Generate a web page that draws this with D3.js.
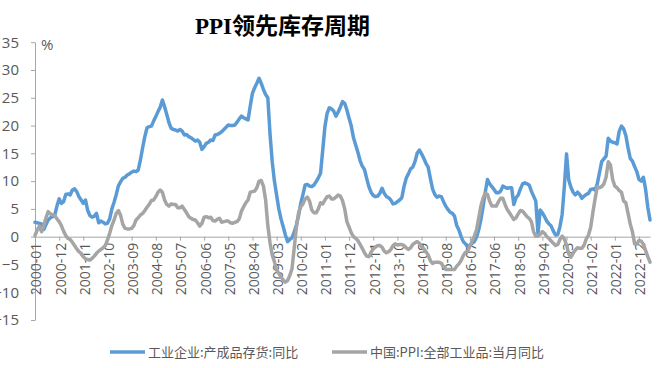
<!DOCTYPE html>
<html><head><meta charset="utf-8">
<script src="https://cdn.jsdelivr.net/npm/d3@7"></script>
<style>
html,body{margin:0;padding:0;background:#fff;}
svg{display:block;}
</style>
</head><body>
<svg id="c" width="658" height="368"></svg>
<script>
// ---- data ----
const startYear = 2000;
const inventory = [
  2.6, 2.5, 2.4, 2.3, 1.3, 2.2, 3.0, 3.4, 3.6, 3.9, 5.5, 6.8,
  6.0, 6.3, 7.6, 7.7, 7.5, 8.4, 8.6, 8.1, 7.2, 6.6, 6.0, 6.6,
  4.7, 3.8, 3.5, 3.7, 4.2, 2.5, 2.8, 2.6, 2.3, 2.4, 3.2, 5.0,
  6.2, 7.6, 9.2, 9.9, 10.5, 10.7, 11.1, 11.3, 11.6, 11.8, 11.7, 12.0,
  13.8, 16.0, 18.0, 19.6, 19.8, 19.9, 20.8, 21.6, 22.5, 23.3, 24.6, 23.4,
  22.0, 20.5, 19.5, 19.3, 19.2, 19.0, 19.3, 19.0, 18.3, 18.4, 18.0, 17.8,
  17.5, 17.2, 17.4, 17.0, 15.7, 16.2, 16.8, 17.0, 17.4, 17.3, 18.3, 18.4,
  18.6, 18.9, 19.3, 19.7, 20.1, 20.0, 20.0, 20.1, 20.6, 21.2, 21.7, 21.4,
  21.2, 21.0, 23.5, 25.8, 26.8, 27.6, 28.5, 27.6, 26.5, 25.6, 25.0, 18.5,
  13.5, 10.0, 7.5, 5.0, 3.2, 1.8, 0.3, -0.9, -0.5, -0.2, 0.8, 2.1,
  3.8, 6.0, 7.6, 9.3, 9.4, 9.1, 9.0, 9.3, 9.9, 10.6, 11.4, 15.6,
  19.8, 22.2, 23.2, 23.0, 22.6, 21.7, 22.4, 23.3, 24.3, 24.0, 22.8, 21.3,
  19.9, 17.8, 16.5, 15.2, 13.7, 12.7, 12.1, 10.5, 9.0, 8.0, 7.4, 7.2,
  7.3, 7.8, 8.7, 7.8, 7.2, 7.0, 6.6, 5.9, 6.0, 6.3, 6.6, 7.0,
  9.0, 10.5, 11.3, 12.2, 12.5, 13.5, 15.0, 15.6, 14.9, 14.1, 13.2, 12.5,
  10.5, 8.6, 7.6, 7.1, 7.3, 7.2, 6.3, 5.5, 4.9, 4.4, 4.2, 3.7,
  2.0, 1.2, 0.0, -0.9, -1.3, -1.8, -1.6, -1.2, -0.9, -0.1, 1.2, 3.0,
  5.4, 8.0, 10.3, 9.5, 9.0, 8.5, 7.9, 7.9, 8.2, 9.1, 8.9, 8.7,
  8.8, 8.8, 5.8, 7.0, 7.5, 8.6, 9.5, 9.7, 9.5, 9.3, 8.2, 7.3,
  6.4, 0.6, 4.8, 4.3, 3.6, 2.8, 2.3, 1.9, 1.0, 0.3, 0.4, 1.8,
  4.0, 9.0, 14.9, 10.2, 8.9, 8.0, 7.5, 8.0, 7.6, 6.9, 7.3, 7.6,
  7.8, 8.5, 8.6, 8.4, 9.5, 11.5, 13.5, 14.0, 14.5, 17.7, 17.2, 17.0,
  16.9, 16.7, 19.0, 19.9, 19.4, 18.2, 16.0, 14.1, 13.6, 12.6, 11.7, 10.3,
  10.0, 10.7, 8.5, 5.3, 3.0
];
const ppi = [
  0.2, 1.2, 1.9, 0.9, 2.0, 3.4, 4.5, 4.1, 3.9, 3.8, 3.2, 2.7,
  2.0, 1.0, 0.2, -0.3, -0.5, -1.0, -1.6, -2.2, -2.7, -3.0, -3.6, -4.0,
  -4.1, -4.2, -3.9, -3.5, -3.0, -2.6, -2.3, -2.0, -1.6, -0.6, 0.6, 2.0,
  3.0, 4.2, 4.7, 3.8, 2.2, 1.5, 1.4, 1.4, 1.5, 2.0, 3.0, 3.4,
  3.9, 4.2, 4.7, 5.3, 5.8, 6.5, 6.6, 7.2, 8.0, 8.4, 8.0, 6.6,
  5.8, 5.5, 5.9, 5.8, 5.8, 5.2, 5.2, 5.5, 4.9, 4.3, 3.6, 3.3,
  3.1, 3.0, 2.5, 1.9, 2.4, 3.5, 3.6, 3.4, 3.5, 2.9, 2.8, 3.1,
  3.3, 2.6, 2.7, 2.8, 2.8, 2.5, 2.4, 2.6, 2.7, 3.2, 4.6, 5.4,
  6.1, 6.6, 8.0, 8.1, 8.2, 8.8, 10.0, 10.1, 9.1, 6.6, 2.0, -1.1,
  -3.3, -4.5, -6.0, -6.6, -7.2, -7.8, -8.2, -7.9, -7.0, -5.8, -2.1, 1.7,
  4.3, 5.4, 5.9, 6.8, 7.1, 6.4, 4.8, 4.3, 4.3, 5.0, 6.1, 5.9,
  6.6, 7.2, 7.3, 6.8, 6.8, 7.1, 7.5, 7.3, 6.5, 5.0, 2.7, 1.7,
  0.7, 0.0, -0.3, -0.7, -1.4, -2.1, -2.9, -3.5, -3.6, -2.8, -2.2, -1.9,
  -1.6, -1.6, -1.9, -2.6, -2.9, -2.7, -2.3, -1.6, -1.3, -1.5, -1.4, -1.4,
  -1.6, -2.0, -2.3, -2.0, -1.4, -1.1, -0.9, -1.2, -1.8, -2.2, -2.7, -3.3,
  -4.3, -4.8, -4.6, -4.6, -4.6, -4.8, -5.4, -5.9, -5.9, -5.9, -5.9, -5.9,
  -5.3, -4.9, -4.3, -3.4, -2.8, -2.6, -1.7, -0.8, 0.1, 1.2, 3.3, 5.5,
  6.9, 7.8, 7.6, 6.4, 5.5, 5.5, 5.5, 6.3, 6.9, 6.9, 5.8, 4.9,
  4.3, 3.7, 3.1, 3.4, 4.1, 4.7, 4.6, 4.1, 3.6, 3.3, 2.7, 0.9,
  0.1, 0.1, 0.4, 0.9, 0.6, 0.0, -0.3, -0.8, -1.2, -1.6, -1.4, -0.5,
  0.1, -0.4, -1.5, -3.1, -3.7, -3.0, -2.4, -2.0, -2.1, -2.1, -1.5, -0.4,
  0.3, 1.7, 4.4, 6.8, 9.0, 8.8, 9.0, 9.5, 10.7, 13.5, 12.9, 10.3,
  9.1, 8.8, 8.3, 8.0, 6.4, 6.1, 4.2, 2.3, 0.9, -1.3, -1.3, -0.7,
  -0.8, -1.4, -2.5, -3.6, -4.6
];
const tickLabels = ["2000-01","2000-12","2001-11","2002-10","2003-09","2004-08","2005-07",
  "2006-06","2007-05","2008-04","2009-03","2010-02","2011-01","2011-12","2012-11","2013-10",
  "2014-09","2015-08","2016-07","2017-06","2018-05","2019-04","2020-03","2021-02","2022-01","2022-12"];
const yTicks = [-15, -10, -5, 0, 5, 10, 15, 20, 25, 30, 35];
const seriesNames = ["工业企业:产成品存货:同比", "中国:PPI:全部工业品:当月同比"];
const seriesColors = ["#5b9bd5", "#a5a5a5"];
const title = "PPI领先库存周期";
const unit = "%";

// ---- categories ----
const months = inventory.map((_, i) => {
  const yy = startYear + Math.floor(i / 12);
  const mm = (i % 12) + 1;
  return yy + "-" + String(mm).padStart(2, "0");
});

// ---- chart ----
const svg = d3.select("#c");
const axisColor = "#a6a6a6";
const textColor = "#595959";
const x = d3.scalePoint().domain(months).range([35, 650]);
const y = d3.scaleLinear().domain([-15, 35]).range([320, 42.2]);

// title
svg.append("text")
  .attr("x", 195).attr("y", 33.5)
  .attr("font-family", "'Liberation Serif','Noto Sans CJK SC',serif")
  .attr("font-weight", "bold").attr("font-size", 23).attr("fill", "#000")
  .text(title);

// y axis
const ya = svg.append("g").attr("transform", "translate(35,0)")
  .call(d3.axisLeft(y).tickValues(yTicks).tickSize(4).tickSizeOuter(0).tickPadding(12));
ya.select(".domain").attr("stroke", axisColor);
ya.selectAll(".tick line").attr("stroke", axisColor);
ya.selectAll(".tick text").attr("fill", textColor)
  .attr("font-family", "'Open Sans','Noto Sans CJK SC',sans-serif").attr("font-size", 15);

svg.append("text").attr("x", 41).attr("y", 50)
  .attr("font-family", "'Open Sans','Noto Sans CJK SC',sans-serif")
  .attr("font-size", 15).attr("fill", textColor).text(unit);

// x axis at zero
const tickMonths = tickLabels.slice();
const xa = svg.append("g").attr("transform", `translate(0,${y(0)})`)
  .call(d3.axisBottom(x).tickValues(tickMonths).tickSize(4).tickSizeOuter(0));
xa.select(".domain").attr("stroke", axisColor);
xa.selectAll(".tick line").attr("stroke", axisColor);
xa.selectAll(".tick text")
  .attr("fill", textColor)
  .attr("font-family", "'Open Sans','Noto Sans CJK SC',sans-serif").attr("font-size", 14)
  .attr("text-anchor", "end")
  .attr("transform", "rotate(-90)")
  .attr("x", -6).attr("y", 1).attr("dy", "0.35em");

// lines
const line = d3.line().x((d, i) => x(months[i])).y(d => y(d));
[inventory, ppi].forEach((s, k) => {
  svg.append("path").datum(s)
    .attr("fill", "none").attr("stroke", seriesColors[k])
    .attr("stroke-width", 3.5).attr("stroke-linejoin", "round").attr("stroke-linecap", "round")
    .attr("d", line);
});

// legend
const legendX = [110, 332];
seriesNames.forEach((name, k) => {
  const g = svg.append("g").attr("transform", `translate(${legendX[k]},352)`);
  g.append("line").attr("x1", 0).attr("x2", 35).attr("y1", 0).attr("y2", 0)
    .attr("stroke", seriesColors[k]).attr("stroke-width", 3.5);
  g.append("text").attr("x", 38).attr("y", 0).attr("dy", "0.35em")
    .attr("font-family", "'Noto Sans CJK SC',sans-serif").attr("font-size", 13)
    .attr("fill", textColor).text(name);
});
</script>
</body></html>
